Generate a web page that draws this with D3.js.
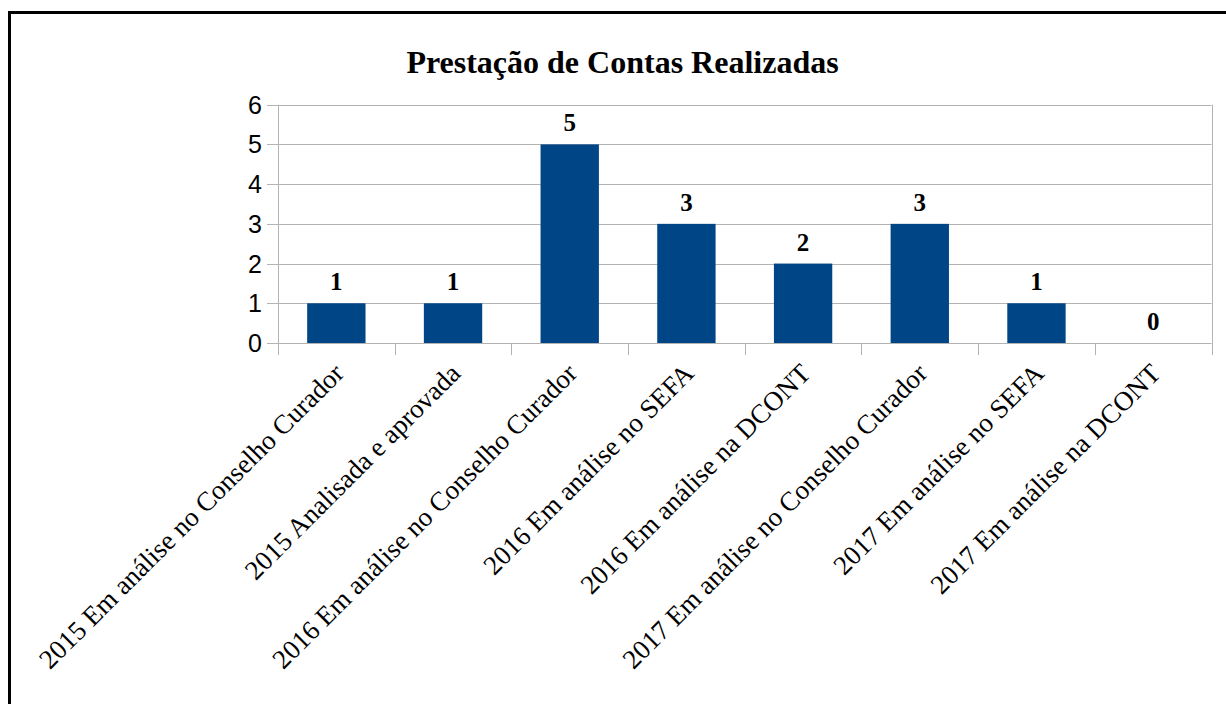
<!DOCTYPE html>
<html>
<head>
<meta charset="utf-8">
<script src="https://cdn.jsdelivr.net/npm/d3@7"></script>
<style>
  html, body { margin: 0; padding: 0; background: #fff; overflow: hidden; }
</style>
</head>
<body>
<div id="chart"></div>
<script>
// Chart data
const categories = [
    "2015 Em análise no Conselho Curador",
    "2015 Analisada e aprovada",
    "2016 Em análise no Conselho Curador",
    "2016 Em análise no SEFA",
    "2016 Em análise na DCONT",
    "2017 Em análise no Conselho Curador",
    "2017 Em análise no SEFA",
    "2017 Em análise na DCONT"
];
const values = [1, 1, 5, 3, 2, 3, 1, 0];
const yTicks = [0, 1, 2, 3, 4, 5, 6];
const title = "Prestação de Contas Realizadas";

const width = 1226, height = 704;
const margin = { top: 104.7, right: 14.5, bottom: 361, left: 278 };
const barColor = "#004586";
const gridColor = "#b3b3b3";

const svg = d3.select("#chart").append("svg")
    .attr("width", width)
    .attr("height", height);

// outer frame (runs off the right and bottom edges like the original)
svg.append("rect")
    .attr("x", 9.5).attr("y", 12.5)
    .attr("width", width + 20).attr("height", height + 20)
    .attr("fill", "none")
    .attr("stroke", "#000")
    .attr("stroke-width", 3);

svg.append("text")
    .attr("x", 622.5).attr("y", 73)
    .attr("text-anchor", "middle")
    .style("font-family", "'Liberation Serif', 'Times New Roman', serif")
    .style("font-weight", "bold")
    .style("font-size", "32px")
    .text(title);

const x = d3.scaleBand()
    .domain(categories)
    .range([margin.left, width - margin.right])
    .paddingInner(0.5)
    .paddingOuter(0.25);

const y = d3.scaleLinear()
    .domain([0, 6])
    .range([height - margin.bottom, margin.top]);

// horizontal grid lines
svg.append("g")
    .selectAll("line")
    .data(yTicks)
    .join("line")
    .attr("x1", margin.left - 11)
    .attr("x2", width - margin.right)
    .attr("y1", d => Math.round(y(d)) + 0.5)
    .attr("y2", d => Math.round(y(d)) + 0.5)
    .attr("stroke", gridColor)
    .attr("stroke-width", 1);

// category boundary ticks + side lines
const step = x.step();
const bounds = d3.range(categories.length + 1).map(i => margin.left + i * step);
svg.append("g")
    .selectAll("line")
    .data(bounds)
    .join("line")
    .attr("x1", d => Math.round(d) + 0.5)
    .attr("x2", d => Math.round(d) + 0.5)
    .attr("y1", (d, i) => (i === 0 || i === categories.length) ? y(6) : y(0))
    .attr("y2", y(0) + 12)
    .attr("stroke", gridColor)
    .attr("stroke-width", 1);

// y tick labels
svg.append("g")
    .selectAll("text")
    .data(yTicks)
    .join("text")
    .attr("x", margin.left - 16)
    .attr("y", d => y(d) + 9)
    .attr("text-anchor", "end")
    .style("font-family", "'Liberation Sans', Arial, sans-serif")
    .style("font-size", "25px")
    .text(d => d);

// bars
svg.append("g")
    .selectAll("rect")
    .data(values)
    .join("rect")
    .attr("x", (d, i) => x(categories[i]))
    .attr("y", d => y(d))
    .attr("width", x.bandwidth())
    .attr("height", d => y(0) - y(d))
    .attr("fill", barColor);

// value labels
svg.append("g")
    .selectAll("text")
    .data(values)
    .join("text")
    .attr("x", (d, i) => x(categories[i]) + x.bandwidth() / 2)
    .attr("y", d => y(d) - 13)
    .attr("text-anchor", "middle")
    .style("font-family", "'Liberation Serif', 'Times New Roman', serif")
    .style("font-weight", "bold")
    .style("font-size", "25px")
    .text(d => d);

// rotated category labels
svg.append("g")
    .selectAll("text")
    .data(categories)
    .join("text")
    .attr("transform", d => {
        const cx = x(d) + x.bandwidth() / 2 + 9;
        return `translate(${cx},${y(0) + 32}) rotate(-45)`;
    })
    .attr("text-anchor", "end")
    .style("font-family", "'Liberation Serif', 'Times New Roman', serif")
    .style("font-size", "27px")
    .text(d => d);
</script>
</body>
</html>
